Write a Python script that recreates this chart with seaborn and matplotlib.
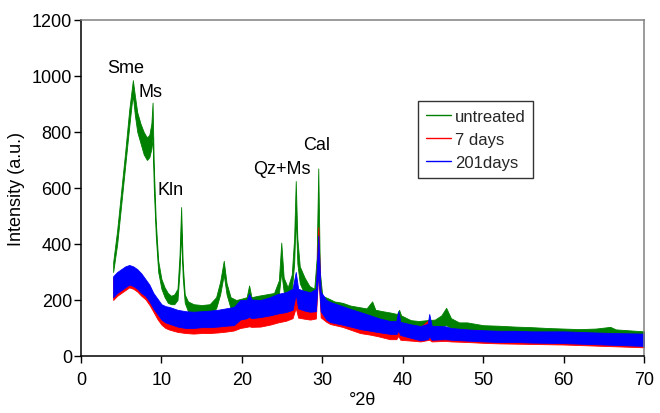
import matplotlib
matplotlib.use("Agg")
import matplotlib.pyplot as plt
import seaborn as sns
import pandas as pd
from matplotlib.lines import Line2D

# ---------------- data (lower / upper edge of the noisy trace) ----------------
series_names = ["untreated", "7 days", "201days"]

untreated_x = [4.0, 4.5, 5.0, 5.5, 6.0, 6.3, 6.45, 6.7, 7.0, 7.4, 7.8, 8.2, 8.5, 8.75, 8.9, 9.05, 9.3, 9.6,
               10.0, 10.4, 10.8, 11.2, 11.6, 12.0, 12.25, 12.45, 12.65, 12.9, 13.3, 14.0, 15.0, 16.0, 16.8,
               17.3, 17.75, 18.1, 18.6, 19.3, 20.0, 20.6, 20.9, 21.2, 22.0, 23.0, 24.0, 24.6, 24.9, 25.2,
               25.7, 26.2, 26.5, 26.7, 26.9, 27.2, 27.8, 28.4, 29.0, 29.3, 29.5, 29.7, 30.0, 30.8, 31.5,
               32.5, 33.5, 34.5, 35.5, 36.2, 36.6, 37.5, 38.5, 39.3, 39.55, 39.8, 41.0, 42.0, 43.0, 44.0,
               44.8, 45.4, 46.0, 47.0, 48.0, 50.0, 52.0, 54.0, 56.0, 58.0, 60.0, 62.0, 64.0, 65.8, 66.5,
               68.0, 70.0]
untreated_lo = [300, 400, 540, 680, 820, 900, 930, 860, 800, 760, 720, 700, 710, 740, 780, 600, 430, 300,
                240, 210, 190, 185, 185, 200, 300, 440, 280, 190, 160, 150, 145, 150, 170,
                220, 290, 220, 170, 160, 165, 170, 180, 170, 175, 180, 185, 220, 300, 230,
                200, 230, 330, 500, 330, 260, 220, 200, 190, 230, 450, 220, 180, 170, 160,
                150, 145, 140, 135, 140, 130, 125, 120, 120, 130, 115, 105, 100, 100, 100,
                105, 110, 100, 95, 95, 90, 85, 82, 80, 78, 75, 73, 72, 72, 70,
                68, 65]
untreated_hi = [335, 450, 590, 730, 880, 950, 985, 930, 870, 830, 800, 780, 790, 830, 905, 680, 480, 340,
                275, 245, 225, 215, 220, 240, 360, 532, 330, 220, 195, 185, 182, 185, 210,
                265, 340, 260, 210, 200, 205, 210, 252, 210, 215, 220, 225, 270, 405, 280,
                245, 290, 420, 625, 420, 320, 280, 250, 240, 350, 670, 300, 215, 205, 195,
                190, 180, 175, 170, 195, 165, 160, 155, 150, 165, 145, 128, 125, 128, 130,
                145, 172, 135, 120, 120, 110, 108, 105, 103, 100, 98, 96, 98, 104, 95,
                92, 88]

days201_x = [4.0, 4.5, 5.0, 5.5, 6.0, 6.5, 7.0, 7.5, 8.0, 8.5, 9.0, 9.5, 10.0, 10.5, 11.0, 12.0, 13.0,
             14.0, 15.0, 16.0, 17.0, 18.0, 19.0, 19.8, 20.6, 20.9, 21.2, 22.3, 23.5, 24.5, 25.5, 26.3,
             26.7, 27.0, 27.8, 28.5, 29.2, 29.5, 29.8, 30.5, 31.0, 32.5, 33.5, 34.7, 36.0, 37.0, 38.4,
             39.2, 39.45, 39.7, 41.0, 42.2, 43.1, 43.3, 43.6, 45.3, 46.0, 48.0, 50.0, 52.0, 54.0, 56.0,
             58.0, 60.0, 62.0, 64.0, 66.0, 68.0, 70.0]
days201_lo = [210, 225, 235, 245, 255, 250, 240, 225, 215, 195, 170, 150, 130, 120, 115, 105, 100,
              100, 103, 103, 105, 108, 110, 130, 135, 140, 135, 139, 145, 152, 157, 165,
              220, 170, 162, 158, 160, 300, 160, 130, 121, 112, 105, 96, 90, 85, 79,
              78, 90, 75, 65, 56, 60, 70, 58, 60, 58, 55, 52, 50, 50, 48,
              47, 46, 44, 42, 40, 38, 36]
days201_hi = [285, 300, 310, 320, 325, 320, 310, 295, 275, 255, 225, 205, 185, 178, 175, 165, 160,
              158, 160, 162, 165, 170, 175, 200, 200, 222, 202, 200, 210, 222, 228, 240,
              300, 240, 232, 228, 240, 430, 230, 200, 193, 178, 168, 157, 145, 135, 125,
              125, 160, 122, 113, 107, 115, 150, 108, 106, 100, 95, 92, 90, 90, 88,
              88, 88, 86, 84, 82, 81, 80]

days7_x = [4.0, 4.5, 5.0, 5.5, 6.0, 6.5, 7.0, 7.5, 8.0, 8.5, 9.0, 9.5, 10.0, 10.5, 11.0, 12.0, 13.0,
           14.0, 15.0, 16.0, 17.0, 18.0, 19.0, 19.8, 20.6, 20.9, 21.2, 22.3, 23.5, 24.5, 25.5, 26.3,
           26.7, 27.0, 27.8, 28.5, 29.2, 29.5, 29.8, 30.5, 31.0, 32.5, 33.5, 34.7, 36.0, 37.0, 38.4,
           39.2, 39.45, 39.7, 41.0, 42.2, 43.3, 43.6, 45.3, 46.0, 48.0, 50.0, 52.0, 54.0, 56.0,
           58.0, 60.0, 62.0, 64.0, 66.0, 68.0, 70.0]
days7_lo = [200, 215, 225, 235, 245, 240, 230, 215, 203, 183, 158, 132, 112, 100, 94, 86, 82,
            80, 82, 82, 84, 87, 91, 100, 104, 106, 104, 105, 112, 120, 126, 135,
            172, 137, 133, 130, 134, 300, 138, 122, 114, 104, 94, 82, 76, 70, 60,
            60, 72, 58, 55, 52, 58, 52, 54, 52, 50, 47, 45, 44, 43,
            42, 41, 39, 37, 35, 33, 31]
days7_hi = [280, 295, 305, 315, 320, 315, 305, 290, 270, 250, 215, 190, 170, 160, 155, 145, 140,
            138, 140, 142, 145, 148, 152, 165, 170, 185, 170, 172, 180, 190, 195, 205,
            235, 205, 200, 198, 215, 460, 205, 190, 183, 170, 160, 148, 138, 128, 118,
            118, 150, 115, 108, 104, 130, 104, 102, 98, 94, 90, 88, 87, 86,
            86, 85, 84, 82, 80, 79, 78]

x_ticks = [0, 10, 20, 30, 40, 50, 60, 70]
y_ticks = [0, 200, 400, 600, 800, 1000, 1200]

peak_labels = ["Sme", "Ms", "Kln", "Qz+Ms", "Cal"]
peak_label_x = [5.5, 8.6, 11.1, 25.0, 29.35]
peak_label_y = [1032, 943, 596, 668, 756]

# ---------------- long-form table: two rows (lower & upper edge) per position ----------------
rows = []
for name, xs, lo, hi in [("untreated", untreated_x, untreated_lo, untreated_hi),
                         ("7 days", days7_x, days7_lo, days7_hi),
                         ("201days", days201_x, days201_lo, days201_hi)]:
    for xv, a, b in zip(xs, lo, hi):
        rows.append({"x": xv, "y": a, "series": name})
        rows.append({"x": xv, "y": b, "series": name})
df = pd.DataFrame(rows)

palette = {"untreated": "#008000", "7 days": "#FF0000", "201days": "#0000FF"}

# ---------------- plot ----------------
sns.set_theme(style="white")
plt.rcParams["font.family"] = ["Liberation Sans", "DejaVu Sans"]

fig, ax = plt.subplots(figsize=(6.6, 4.14), dpi=100)
fig.subplots_adjust(left=0.1227, right=0.9758, bottom=0.1377, top=0.9493)

sns.lineplot(data=df, x="x", y="y", hue="series", hue_order=series_names, palette=palette,
             estimator="mean", errorbar=("pi", 100), err_kws={"alpha": 1, "linewidth": 0.6},
             linewidth=0, legend=False, ax=ax)

ax.set_xlim(0, 70)
ax.set_ylim(0, 1200)
ax.set_xticks(x_ticks)
ax.set_yticks(y_ticks)
ax.tick_params(axis="both", which="major", direction="out", length=5, width=1, color="black",
               labelsize=13, labelcolor="black", bottom=True, left=True)
ax.tick_params(axis="x", pad=6)
ax.tick_params(axis="y", pad=1.5)

for s in ["left", "bottom"]:
    ax.spines[s].set_color("black")
    ax.spines[s].set_linewidth(1.1)
for s in ["top", "right"]:
    ax.spines[s].set_color("#808080")
    ax.spines[s].set_linewidth(1.1)

ax.set_xlabel("°2θ", fontsize=13, color="black", labelpad=2)
ax.set_ylabel("Intensity (a.u.)", fontsize=13, color="black", labelpad=5)

for t, xv, yv in zip(peak_labels, peak_label_x, peak_label_y):
    ax.text(xv, yv, t, fontsize=13, ha="center", va="center", color="black")

handles = [Line2D([0], [0], color=palette[n], lw=1) for n in series_names]
leg = ax.legend(handles, series_names, loc="upper left", bbox_to_anchor=(418 / 660, 1 - 102 / 414),
                bbox_transform=fig.transFigure, borderaxespad=0, frameon=True, fancybox=False,
                edgecolor="black", fontsize=12, handlelength=1.5, handletextpad=0.25,
                labelspacing=0.5, borderpad=0.45)
leg.get_frame().set_linewidth(1.0)

fig.savefig("out.png", dpi=100)
